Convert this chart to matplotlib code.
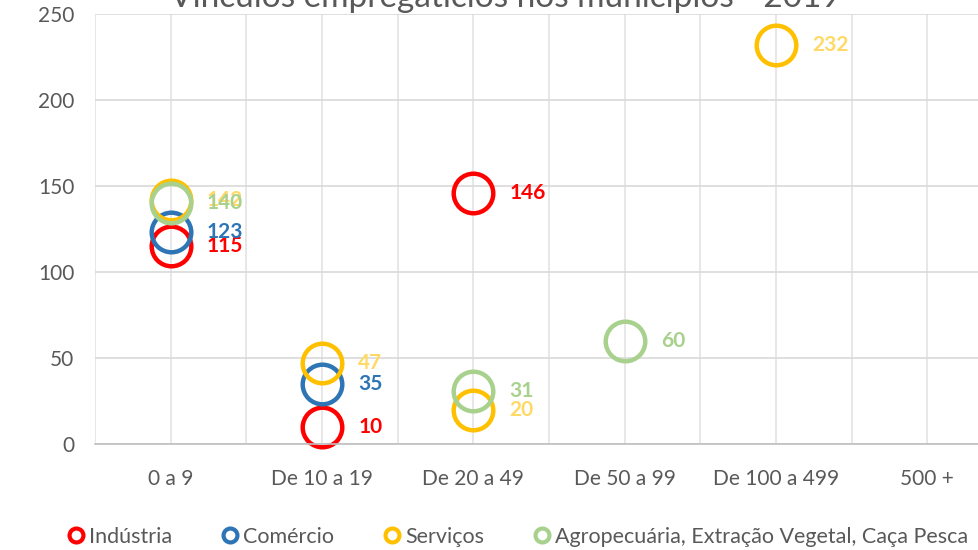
import matplotlib
matplotlib.use("Agg")
import matplotlib.pyplot as plt
from matplotlib.lines import Line2D
import numpy as np

plt.rcParams['font.family'] = ['Lato', 'DejaVu Sans']

categorias = ["0 a 9", "De 10 a 19", "De 20 a 49", "De 50 a 99", "De 100 a 499", "500 +"]

# (índice da categoria, valor) por série
industria_x = [0, 1, 2]
industria_y = [115, 10, 146]
comercio_x = [0, 1]
comercio_y = [123, 35]
servicos_x = [0, 1, 2, 4]
servicos_y = [142, 47, 20, 232]
agro_x = [0, 2, 3]
agro_y = [140, 31, 60]

series = [
    ("Indústria", industria_x, industria_y, "#FF0000", "#FF0000"),
    ("Comércio", comercio_x, comercio_y, "#2E75B6", "#2E75B6"),
    ("Serviços", servicos_x, servicos_y, "#FFC000", "#FFD966"),
    ("Agropecuária, Extração Vegetal, Caça Pesca", agro_x, agro_y, "#A9D18E", "#A9D18E"),
]

fig = plt.figure(figsize=(9.79, 5.5), dpi=100)
ax = fig.add_axes([95 / 979, 1 - 444 / 550, (1003 - 95) / 979, (444 - 14) / 550])

for nome, xs, ys, cor, cor_txt in series:
    ax.plot(xs, ys, linestyle="none", marker="o", markersize=28.5,
            markerfacecolor="none", markeredgecolor=cor, markeredgewidth=3.2, clip_on=False)
    for x, y in zip(xs, ys):
        ax.annotate(str(y), (x, y), xytext=(26, 0), textcoords="offset points",
                    va="center", ha="left", fontsize=15, fontweight="bold", color=cor_txt)

ax.set_xlim(-0.5, 5.5)
ax.set_ylim(0, 250)
ax.set_yticks(np.arange(0, 251, 50))
ax.set_xticks(range(len(categorias)))
ax.set_xticklabels(categorias)
ax.set_xticks(np.arange(-0.5, 5.51, 1), minor=True)
ax.grid(True, which="major", axis="y", color="#D9D9D9", linewidth=1.2)
ax.grid(True, which="both", axis="x", color="#E3E3E3", linewidth=1.2)
ax.set_axisbelow(True)
for s in ["top", "right", "left"]:
    ax.spines[s].set_visible(False)
ax.spines["bottom"].set_color("#BFBFBF")
ax.spines["bottom"].set_linewidth(1.2)
ax.tick_params(axis="both", which="both", length=0, labelsize=15, colors="#595959")
ax.tick_params(axis="x", pad=18)
ax.tick_params(axis="y", pad=15)

fig.text(505 / 979, 1 - 7 / 550, "Vínculos empregatícios nos municípios - 2019",
         ha="center", va="baseline", fontsize=24, color="#595959")

handles = [Line2D([], [], linestyle="none", marker="o", markersize=10, markerfacecolor="none",
                  markeredgecolor=c, markeredgewidth=3) for _, _, _, c, _ in series]
fig.legend(handles, [s[0] for s in series], loc="center", ncol=4,
           bbox_to_anchor=(517 / 979, 13 / 550), frameon=False, fontsize=15.5,
           labelcolor="#595959", handletextpad=0.1, columnspacing=2.2, handlelength=1.0)

fig.savefig("out.png", dpi=100)
